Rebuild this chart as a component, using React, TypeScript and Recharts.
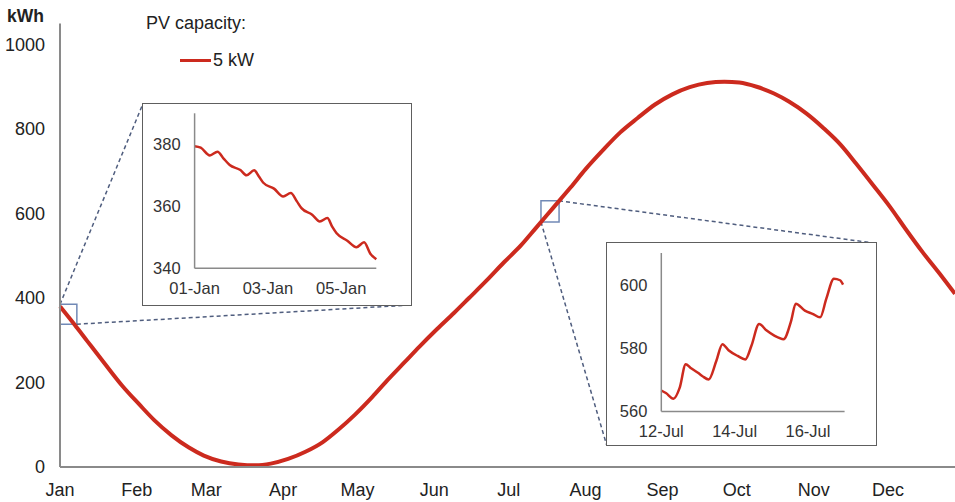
import React from 'react';
import {
  LineChart,
  Line,
  XAxis,
  YAxis,
  ReferenceArea,
  ReferenceLine,
} from 'recharts';

// ---- Main chart data (day of year, kWh) ----
const mainDays = [0, 6, 11, 18, 25, 32, 38, 45, 52, 58, 65, 72, 79, 85, 92, 99, 106, 112, 119, 126, 132, 139, 145, 152, 159, 165, 172, 179, 186, 192, 199, 206, 212, 219, 226, 233, 240, 247, 254, 261, 268, 274, 281, 288, 294, 301, 308, 315, 321, 328, 335, 341, 348, 355, 361];
const mainKwh = [380, 336, 298, 245, 193, 148, 111, 75, 46, 27, 13, 6, 4, 8, 19, 36, 59, 87, 124, 166, 205, 248, 285, 326, 365, 400, 441, 484, 525, 566, 614, 662, 705, 750, 792, 826, 858, 882, 899, 909, 912, 910, 900, 884, 865, 837, 802, 762, 719, 667, 614, 564, 508, 456, 410];

const monthTicks = [0, 31, 59, 90, 120, 151, 181, 212, 243, 273, 304, 334];
const monthLabels = ['Jan', 'Feb', 'Mar', 'Apr', 'May', 'Jun', 'Jul', 'Aug', 'Sep', 'Oct', 'Nov', 'Dec'];
const mainYTicks = [0, 200, 400, 600, 800, 1000];

// ---- Inset 1: 01-Jan .. 05-Jan (hours since start, kWh) ----
const janHours = [0, 4, 10, 15, 19, 23, 30, 34, 39, 42, 45, 52, 58, 63, 67, 70, 77, 82, 87, 90, 93, 100, 106, 111, 115, 119];
const janKwh = [379.4, 378.9, 376.4, 377.6, 375.4, 373.3, 371.7, 370.0, 371.6, 369.7, 367.6, 365.7, 363.2, 364.3, 361.6, 359.4, 357.3, 355.1, 356.2, 353.5, 351.3, 348.9, 346.8, 348.4, 344.8, 342.9];
const janTicks = [0, 48, 96];
const janTickLabels = ['01-Jan', '03-Jan', '05-Jan'];
const janYTicks = [340, 360, 380];

// ---- Inset 2: 12-Jul .. 16-Jul ----
const julHours = [0, 3, 8, 12, 16, 19, 24, 27, 31, 36, 40, 44, 50, 55, 59, 64, 69, 74, 80, 85, 88, 94, 99, 104, 108, 113, 117, 119];
const julKwh = [566.6, 565.8, 564.0, 567.4, 574.9, 573.8, 572.2, 571.1, 570.1, 575.9, 581.2, 579.3, 577.5, 576.4, 580.7, 587.6, 585.5, 583.9, 582.8, 588.6, 594.0, 591.8, 590.8, 589.7, 595.5, 601.9, 601.4, 600.0];
const julTicks = [0, 48, 96];
const julTickLabels = ['12-Jul', '14-Jul', '16-Jul'];
const julYTicks = [560, 580, 600];

// zoom windows marked on the main chart (data coords) and inset box corners (data coords)
const janWindow = { x1: 0, x2: 6.8, y1: 338, y2: 385 };
const julWindow = { x1: 194, x2: 201.3, y1: 580, y2: 630 };
const janBoxTopLeft = { x: 33.4, y: 859 };
const janBoxBottomRight = { x: 141.5, y: 383.4 };
const julBoxTopRight = { x: 329, y: 529.5 };
const julBoxBottomLeft = { x: 220.5, y: 52 };

const mainData = mainDays.map((d, i) => ({ day: d, kwh: mainKwh[i] }));
const janData = janHours.map((h, i) => ({ h, kwh: janKwh[i] }));
const julData = julHours.map((h, i) => ({ h, kwh: julKwh[i] }));

const FONT = '"Liberation Sans", Arial, Helvetica, sans-serif';
const RED = '#cc2a1e';
const AXIS = '#8a8a8a';
const TEXT = '#222222';
const SQUARE = '#7189b6';
const DASH = '#4f5d7e';

function Inset({
  left, top, width, height, data, ticks, labels, yTicks, xMax, yDomain, margin, yWidth, xHeight,
}: any) {
  return (
    <div
      style={{
        position: 'absolute',
        left,
        top,
        width,
        height,
        background: '#fff',
        outline: '1.5px solid #5e5e5e',
      }}
    >
      <LineChart width={width} height={height} data={data} margin={margin}>
        <XAxis
          type="number"
          dataKey="h"
          domain={[0, xMax]}
          ticks={ticks}
          interval={0}
          tickFormatter={(v: number) => labels[ticks.indexOf(v)] ?? ''}
          height={xHeight}
          tickLine={false}
          tickSize={0}
          tickMargin={14}
          axisLine={{ stroke: AXIS, strokeWidth: 1.5 }}
          tick={{ fill: '#333', fontSize: 16.5, fontFamily: FONT }}
        />
        <YAxis
          type="number"
          domain={yDomain}
          ticks={yTicks}
          interval={0}
          width={yWidth}
          tickLine={false}
          tickSize={0}
          tickMargin={14}
          axisLine={{ stroke: AXIS, strokeWidth: 1.5 }}
          tick={{ fill: '#333', fontSize: 16.5, fontFamily: FONT }}
        />
        <Line
          type="monotone"
          dataKey="kwh"
          stroke={RED}
          strokeWidth={2.5}
          dot={false}
          isAnimationActive={false}
        />
      </LineChart>
    </div>
  );
}

export default function App() {
  return (
    <div
      style={{
        position: 'absolute',
        left: 0,
        top: 0,
        width: 955,
        height: 502,
        background: '#fff',
        fontFamily: FONT,
        overflow: 'hidden',
      }}
    >
      <LineChart width={955} height={502} data={mainData} margin={{ top: 23.4, right: 0, bottom: 0, left: 0 }}>
        <XAxis
          type="number"
          dataKey="day"
          domain={[0, 361]}
          ticks={monthTicks}
          interval={0}
          tickFormatter={(v: number) => monthLabels[monthTicks.indexOf(v)] ?? ''}
          height={35}
          tickLine={false}
          tickSize={0}
          tickMargin={16.5}
          axisLine={{ stroke: AXIS, strokeWidth: 2 }}
          tick={{ fill: TEXT, fontSize: 18, fontFamily: FONT }}
        />
        <YAxis
          type="number"
          domain={[0, 1050]}
          ticks={mainYTicks}
          interval={0}
          width={60}
          tickLine={false}
          tickSize={0}
          tickMargin={15}
          axisLine={{ stroke: AXIS, strokeWidth: 2 }}
          tick={{ fill: TEXT, fontSize: 18, fontFamily: FONT }}
        />
        <ReferenceLine
          segment={[{ x: janWindow.x1, y: janWindow.y2 }, janBoxTopLeft]}
          stroke={DASH}
          strokeWidth={1.5}
          strokeDasharray="4 3"
          ifOverflow="visible"
        />
        <ReferenceLine
          segment={[{ x: janWindow.x2, y: janWindow.y1 }, janBoxBottomRight]}
          stroke={DASH}
          strokeWidth={1.5}
          strokeDasharray="4 3"
          ifOverflow="visible"
        />
        <ReferenceLine
          segment={[{ x: julWindow.x2, y: julWindow.y2 }, julBoxTopRight]}
          stroke={DASH}
          strokeWidth={1.5}
          strokeDasharray="4 3"
          ifOverflow="visible"
        />
        <ReferenceLine
          segment={[{ x: julWindow.x1, y: julWindow.y1 }, julBoxBottomLeft]}
          stroke={DASH}
          strokeWidth={1.5}
          strokeDasharray="4 3"
          ifOverflow="visible"
        />
        <Line
          type="monotone"
          dataKey="kwh"
          stroke={RED}
          strokeWidth={4}
          dot={false}
          isAnimationActive={false}
        />
        <ReferenceArea
          x1={janWindow.x1}
          x2={janWindow.x2}
          y1={janWindow.y1}
          y2={janWindow.y2}
          fill="none"
          fillOpacity={0}
          stroke={SQUARE}
          strokeWidth={1.5}
          ifOverflow="visible"
        />
        <ReferenceArea
          x1={julWindow.x1}
          x2={julWindow.x2}
          y1={julWindow.y1}
          y2={julWindow.y2}
          fill="none"
          fillOpacity={0}
          stroke={SQUARE}
          strokeWidth={1.5}
          ifOverflow="visible"
        />
      </LineChart>

      <div style={{ position: 'absolute', left: 7, top: 6, fontSize: 17.5, fontWeight: 700, color: TEXT }}>kWh</div>

      <div style={{ position: 'absolute', left: 146, top: 13, fontSize: 18, color: TEXT, whiteSpace: 'nowrap' }}>PV capacity:</div>
      <div style={{ position: 'absolute', left: 180, top: 50, display: 'flex', alignItems: 'center', fontSize: 18, color: TEXT, whiteSpace: 'nowrap' }}>
        <span style={{ display: 'inline-block', width: 31, height: 3.5, background: RED, marginRight: 2 }} />
        <span>5 kW</span>
      </div>

      <Inset
        left={142.7}
        top={104}
        width={268}
        height={201}
        data={janData}
        ticks={janTicks}
        labels={janTickLabels}
        yTicks={janYTicks}
        xMax={119}
        yDomain={[340, 390]}
        margin={{ top: 9.3, right: 34.7, bottom: 0, left: 0 }}
        yWidth={51.6}
        xHeight={36.7}
      />
      <Inset
        left={606.7}
        top={243.3}
        width={269}
        height={201.7}
        data={julData}
        ticks={julTicks}
        labels={julTickLabels}
        yTicks={julYTicks}
        xMax={120}
        yDomain={[560, 610]}
        margin={{ top: 10, right: 31.4, bottom: 0, left: 0 }}
        yWidth={54.3}
        xHeight={33.3}
      />
    </div>
  );
}
